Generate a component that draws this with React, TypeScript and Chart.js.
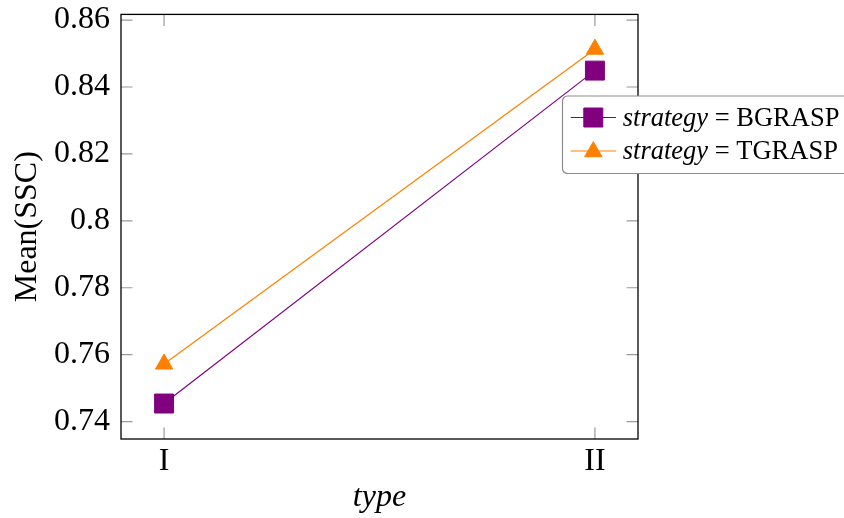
import React, { useEffect, useRef } from "react";
import { Chart, registerables } from "chart.js";

Chart.register(...registerables);

const categories = ["I", "II"];
const seriesNames = ["BGRASP", "TGRASP"];
const bgrasp = [0.7454, 0.8449];
const tgrasp = [0.7572, 0.8513];
const yTicks = [0.74, 0.76, 0.78, 0.8, 0.82, 0.84, 0.86];
const yTickLabels = ["0.74", "0.76", "0.78", "0.8", "0.82", "0.84", "0.86"];
const xTitle = "type";
const yTitle = "Mean(SSC)";
const legendKey = "strategy";

const PURPLE = "#800080";
const ORANGE = "#ff8000";
const SERIF = '"Liberation Serif", "Times New Roman", serif';

const framePlugin = {
  id: "frame",
  beforeDatasetsDraw(chart: any) {
    const { ctx, chartArea } = chart;
    const { left, right, top, bottom } = chartArea;
    const xs = chart.scales.x;
    const ys = chart.scales.y;
    const tl = 11.5;
    ctx.save();
    ctx.strokeStyle = "#9a9a9a";
    ctx.lineWidth = 1.2;
    ctx.beginPath();
    for (let i = 0; i < categories.length; i++) {
      const px = xs.getPixelForValue(i);
      ctx.moveTo(px, bottom);
      ctx.lineTo(px, bottom - tl);
      ctx.moveTo(px, top);
      ctx.lineTo(px, top + tl);
    }
    for (const v of yTicks) {
      const py = ys.getPixelForValue(v);
      ctx.moveTo(left, py);
      ctx.lineTo(left + tl, py);
      ctx.moveTo(right, py);
      ctx.lineTo(right - tl, py);
    }
    ctx.stroke();
    ctx.strokeStyle = "#000";
    ctx.lineWidth = 1.3;
    ctx.strokeRect(left, top, right - left, bottom - top);

    // axis titles
    ctx.fillStyle = "#000";
    ctx.font = `italic 32px ${SERIF}`;
    ctx.textAlign = "center";
    ctx.textBaseline = "alphabetic";
    ctx.fillText(xTitle, (left + right) / 2, 506);
    ctx.save();
    ctx.translate(36, (top + bottom) / 2);
    ctx.rotate(-Math.PI / 2);
    ctx.font = `32px ${SERIF}`;
    ctx.fillText(yTitle, 0, 0);
    ctx.restore();
    ctx.restore();
  },
};

function drawMarker(ctx: any, style: string, x: number, y: number, color: string) {
  ctx.save();
  ctx.fillStyle = color;
  ctx.strokeStyle = color;
  ctx.lineWidth = 1;
  ctx.beginPath();
  if (style === "rect") {
    ctx.rect(x - 9.5, y - 9.5, 19, 19);
  } else {
    const r = 10;
    ctx.moveTo(x, y - r);
    ctx.lineTo(x + r * Math.sin((2 * Math.PI) / 3), y - r * Math.cos((2 * Math.PI) / 3));
    ctx.lineTo(x + r * Math.sin((4 * Math.PI) / 3), y - r * Math.cos((4 * Math.PI) / 3));
    ctx.closePath();
  }
  ctx.fill();
  ctx.stroke();
  ctx.restore();
}

const legendPlugin = {
  id: "customLegend",
  afterDraw(chart: any) {
    const { ctx } = chart;
    ctx.save();
    const bx = 562.5, by = 96, bw = 300, bh = 77.5;
    ctx.beginPath();
    ctx.roundRect(bx, by, bw, bh, 5);
    ctx.fillStyle = "#fff";
    ctx.fill();
    ctx.strokeStyle = "#8c8c8c";
    ctx.lineWidth = 1.2;
    ctx.stroke();

    const rows = chart.data.datasets;
    const lineY = [117.5, 151];
    const baseY = [125.5, 159];
    rows.forEach((ds: any, i: number) => {
      const y = lineY[i];
      ctx.strokeStyle = ds.borderColor;
      ctx.lineWidth = 1.2;
      ctx.beginPath();
      ctx.moveTo(570.7, y);
      ctx.lineTo(616, y);
      ctx.stroke();
      drawMarker(ctx, ds.pointStyle, 593.3, i === 1 ? y + 0.7 : y, ds.borderColor);

      ctx.fillStyle = "#000";
      ctx.textAlign = "left";
      ctx.textBaseline = "alphabetic";
      let x = 622.7;
      ctx.font = `italic 26.5px ${SERIF}`;
      ctx.fillText(legendKey, x, baseY[i]);
      x += ctx.measureText(legendKey).width;
      ctx.font = `26.5px ${SERIF}`;
      const eq = " = ";
      ctx.fillText(eq, x, baseY[i]);
      x += ctx.measureText(eq).width;
      ctx.fillText(ds.label, x, baseY[i]);
    });
    ctx.restore();
  },
};

export default function App() {
  const ref = useRef<HTMLCanvasElement>(null);
  useEffect(() => {
    if (!ref.current) return;
    const chart = new Chart(ref.current, {
      type: "line",
      data: {
        datasets: [
          {
            label: seriesNames[0],
            data: bgrasp.map((v, i) => ({ x: i, y: v })),
            borderColor: PURPLE,
            backgroundColor: PURPLE,
            borderWidth: 1.2,
            pointStyle: "rect",
            pointRadius: 13.4,
            pointBorderWidth: 1,
            pointBackgroundColor: PURPLE,
            pointBorderColor: PURPLE,
          },
          {
            label: seriesNames[1],
            data: tgrasp.map((v, i) => ({ x: i, y: v })),
            borderColor: ORANGE,
            backgroundColor: ORANGE,
            borderWidth: 1.2,
            pointStyle: "triangle",
            pointRadius: 10,
            pointBorderWidth: 1,
            pointBackgroundColor: ORANGE,
            pointBorderColor: ORANGE,
          },
        ],
      },
      options: {
        animation: false,
        responsive: false,
        devicePixelRatio: 1,
        layout: { padding: { left: 0, top: 9, right: 206, bottom: 0 } },
        plugins: { legend: { display: false }, tooltip: { enabled: false } },
        scales: {
          x: {
            type: "linear",
            min: -0.1,
            max: 1.1,
            grid: { display: false, drawTicks: false },
            border: { display: false },
            afterBuildTicks: (s: any) => {
              s.ticks = categories.map((_, i) => ({ value: i }));
            },
            afterFit: (s: any) => {
              s.height = 79;
              s.paddingLeft = 0;
              s.paddingRight = 0;
            },
            ticks: {
              autoSkip: false,
              maxRotation: 0,
              padding: 3,
              color: "#000",
              font: { family: SERIF, size: 32 },
              callback: (v: any) => categories[Math.round(v)] ?? "",
            },
          },
          y: {
            type: "linear",
            min: 0.7348,
            max: 0.8617,
            grid: { display: false, drawTicks: false },
            border: { display: false },
            afterBuildTicks: (s: any) => {
              s.ticks = yTicks.map((v) => ({ value: v }));
            },
            afterFit: (s: any) => {
              s.width = 121;
              s.paddingTop = 0;
              s.paddingBottom = 0;
            },
            ticks: {
              autoSkip: false,
              padding: 11,
              color: "#000",
              font: { family: SERIF, size: 32 },
              callback: (_v: any, idx: number) => yTickLabels[idx],
            },
          },
        },
      },
      plugins: [framePlugin, legendPlugin],
    });
    return () => chart.destroy();
  }, []);
  return (
    <div style={{ position: "absolute", left: 0, top: 0, width: 844, height: 518, background: "#fff" }}>
      <canvas ref={ref} width={844} height={518} />
    </div>
  );
}
